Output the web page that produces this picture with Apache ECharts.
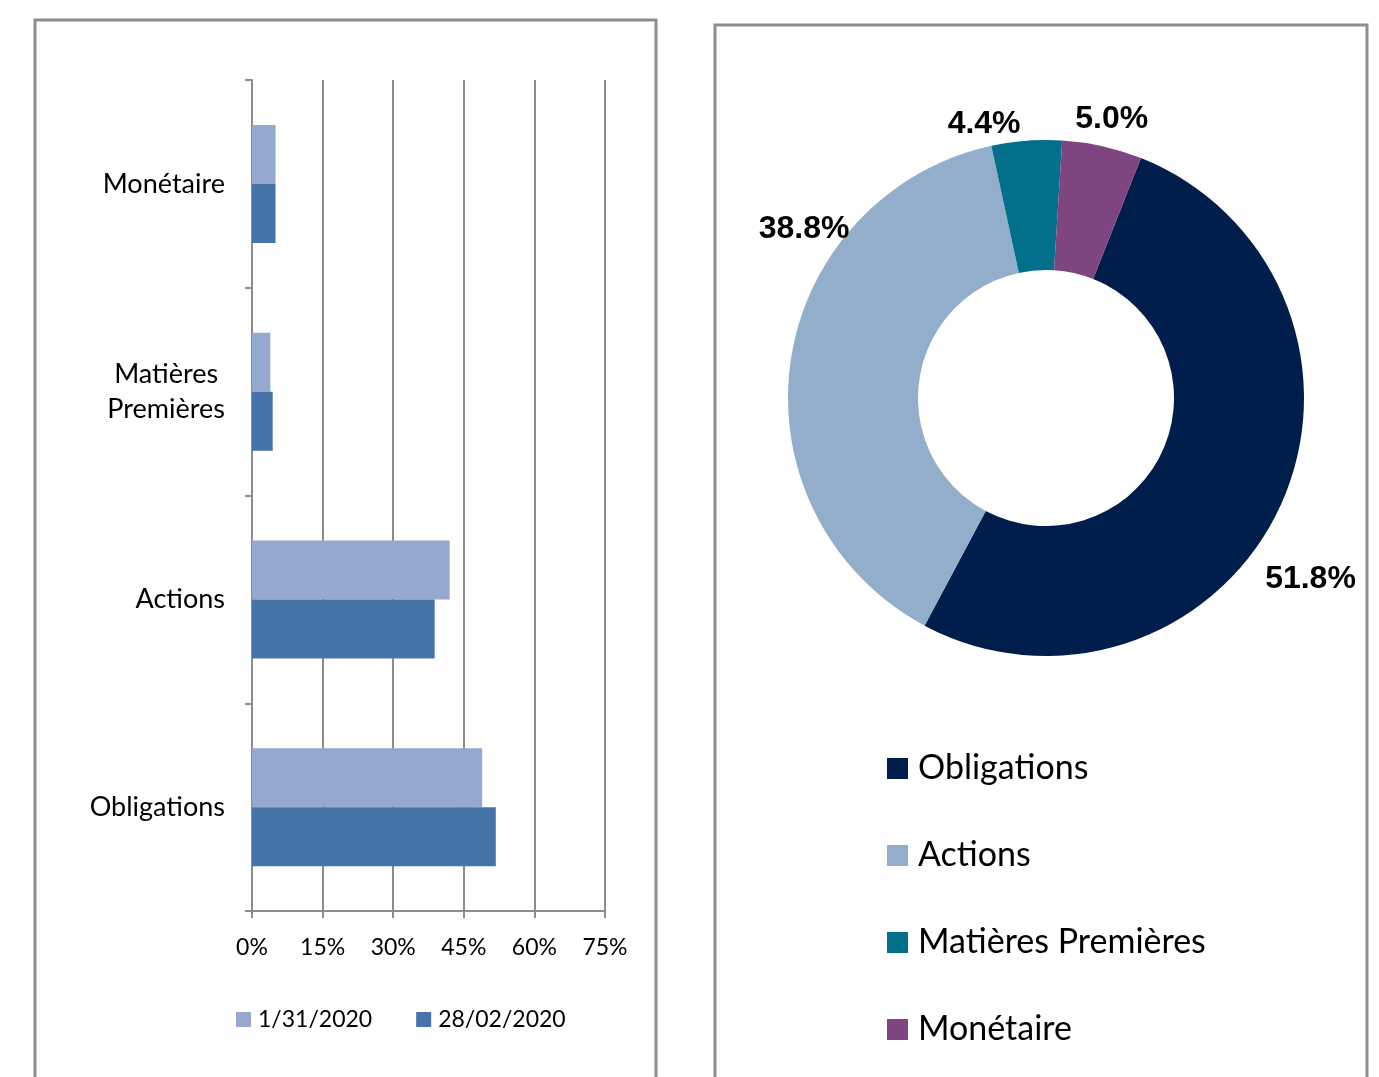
<!DOCTYPE html>
<html>
<head>
<meta charset="utf-8">
<script src="https://cdn.jsdelivr.net/npm/echarts@6/dist/echarts.min.js"></script>
<style>
  html, body { margin: 0; padding: 0; background: #fff; }
  #chart { width: 1379px; height: 1077px; }
</style>
</head>
<body>
<div id="chart"></div>
<script>
// bar chart data (bottom to top)
const categories = ['Obligations', 'Actions', 'Matières Premières', 'Monétaire'];
const dates = ['1/31/2020', '28/02/2020'];
const valuesJan = [48.9, 42.0, 3.9, 5.0];
const valuesFeb = [51.8, 38.8, 4.4, 5.0];
const xTicks = [0, 15, 30, 45, 60, 75];

// donut data
const pieNames = ['Obligations', 'Actions', 'Matières Premières', 'Monétaire'];
const pieValues = [51.8, 38.8, 4.4, 5.0];

const barColors = ['#95a9d0', '#4673a8'];
const pieColors = ['#001e4b', '#92aecb', '#02708a', '#7e4581'];
// nudges for the donut labels, relative to where echarts puts them
const labelShift = [[-20, 73], [64, -133], [-1, -17], [-32, -27]];

const chart = echarts.init(document.getElementById('chart'));
const gray = '#8c8c8c';
const font = 'Lato, "Open Sans", sans-serif';

const option = {
  backgroundColor: '#fff',
  animation: false,
  graphic: [
    { type: 'rect', shape: { x: 35, y: 20, width: 621, height: 1100 },
      style: { fill: 'none', stroke: '#8e8e8e', lineWidth: 3 } },
    { type: 'rect', shape: { x: 715, y: 25, width: 652, height: 1100 },
      style: { fill: 'none', stroke: '#8e8e8e', lineWidth: 3 } }
  ],
  legend: [
    {
      data: dates,
      left: 236, top: 1008, padding: 0,
      itemWidth: 15, itemHeight: 15, itemGap: 44,
      icon: 'rect',
      textStyle: { fontFamily: font, fontSize: 23, color: '#000', padding: [0, 0, 0, 2] }
    },
    {
      data: pieNames,
      orient: 'vertical',
      left: 887, top: 750, padding: 0,
      itemWidth: 21, itemHeight: 21, itemGap: 50,
      icon: 'rect',
      textStyle: { fontFamily: font, fontSize: 34, color: '#000', lineHeight: 37, padding: [0, 0, 0, 5] }
    }
  ],
  grid: { left: 252, right: 774, top: 80, bottom: 166, containLabel: false },
  xAxis: {
    type: 'value',
    min: xTicks[0], max: xTicks[xTicks.length - 1], interval: xTicks[1] - xTicks[0],
    axisLine: { show: true, lineStyle: { color: gray, width: 2 } },
    axisTick: { show: true, length: 7, lineStyle: { color: gray, width: 2 } },
    splitLine: { show: true, lineStyle: { color: gray, width: 2 } },
    axisLabel: {
      margin: 25,
      formatter: v => v + '%',
      fontFamily: font, fontSize: 23, color: '#000'
    }
  },
  yAxis: {
    type: 'category',
    data: categories,
    axisLine: { show: true, lineStyle: { color: gray, width: 2 } },
    axisTick: { show: true, length: 7, lineStyle: { color: gray, width: 2 } },
    axisLabel: {
      margin: 27,
      fontFamily: font, fontSize: 27, color: '#000',
      formatter: v => v.split(' ').map(w => '{c|' + w + '}').join('\n'),
      rich: { c: { align: 'center', fontFamily: font, fontSize: 27, color: '#000', lineHeight: 35 } }
    }
  },
  series: [
    {
      name: dates[0], type: 'bar', data: valuesJan,
      barWidth: 59, barGap: '0%',
      itemStyle: { color: barColors[0] }
    },
    {
      name: dates[1], type: 'bar', data: valuesFeb,
      barWidth: 59, barGap: '0%',
      itemStyle: { color: barColors[1] }
    },
    {
      name: 'Répartition', type: 'pie',
      center: [1046, 398], radius: [128, 258],
      startAngle: 68.4, clockwise: true,
      avoidLabelOverlap: false,
      data: pieNames.map((n, i) => ({ name: n, value: pieValues[i], itemStyle: { color: pieColors[i] } })),
      label: {
        show: true, position: 'outside',
        formatter: p => p.value.toFixed(1) + '%',
        fontFamily: '"Liberation Sans", Arial, sans-serif',
        fontWeight: 'bold', fontSize: 32, color: '#000'
      },
      labelLine: { show: false, length: 0, length2: 0 },
      labelLayout: p => ({ dx: labelShift[p.dataIndex][0], dy: labelShift[p.dataIndex][1] })
    }
  ]
};

chart.setOption(option);
</script>
</body>
</html>
